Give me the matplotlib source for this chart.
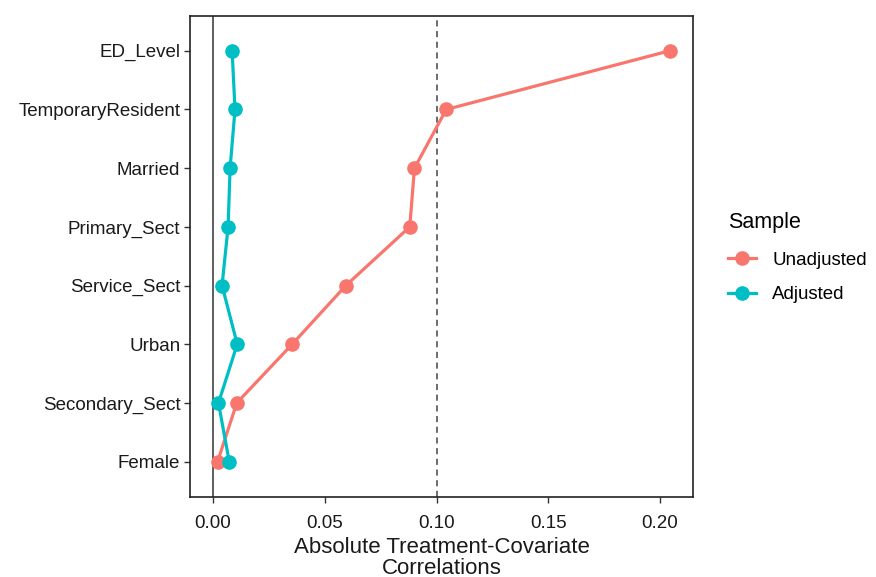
import matplotlib.pyplot as plt

plt.rcParams['font.family'] = ['Liberation Sans', 'DejaVu Sans']

# covariates, top to bottom as in the plot
covariates = ['ED_Level', 'TemporaryResident', 'Married', 'Primary_Sect',
              'Service_Sect', 'Urban', 'Secondary_Sect', 'Female']
unadjusted = [0.2043, 0.1043, 0.0901, 0.0880, 0.0594, 0.0354, 0.0106, 0.0020]
adjusted = [0.0085, 0.0098, 0.0076, 0.0067, 0.0040, 0.0108, 0.0024, 0.0072]
threshold = 0.10

col_un = '#F8766D'
col_adj = '#00BFC4'

fig = plt.figure(figsize=(8.76, 5.77), dpi=100)
ax = fig.add_axes([0.217, 0.139, 0.574, 0.834])

ypos = list(range(len(covariates), 0, -1))

ax.axvline(0, color='#333333', lw=1.1, zorder=1)
ax.axvline(threshold, color='#444444', lw=1.1, ls=(0, (4, 3)), zorder=1)

ax.plot(unadjusted, ypos, color=col_un, lw=2.3, marker='o', ms=9.5,
        label='Unadjusted', zorder=3)
ax.plot(adjusted, ypos, color=col_adj, lw=2.3, marker='o', ms=9.5,
        label='Adjusted', zorder=3)

ax.set_xlim(-0.0103, 0.2147)
ax.set_ylim(0.4, len(covariates) + 0.6)
ax.set_xticks([0.00, 0.05, 0.10, 0.15, 0.20])
ax.set_xticklabels(['0.00', '0.05', '0.10', '0.15', '0.20'])
ax.set_yticks(ypos)
ax.set_yticklabels(covariates)

ax.tick_params(axis='both', labelsize=13.5, colors='#333333',
               labelcolor='#1a1a1a', length=4, width=1)
ax.tick_params(axis='y', pad=3)
ax.tick_params(axis='x', pad=9)
for s in ax.spines.values():
    s.set_color('#222222')
    s.set_linewidth(1.2)

ax.set_xlabel('Absolute Treatment-Covariate\nCorrelations', fontsize=16,
              color='#1a1a1a', linespacing=0.95, labelpad=4)

leg = fig.legend(loc='center left', bbox_to_anchor=(0.831, 0.553),
                 frameon=False, title='Sample', fontsize=13.5,
                 title_fontsize=15.5, handlelength=1.5, handletextpad=0.85,
                 labelspacing=0.95, borderpad=0, borderaxespad=0)
leg._legend_box.align = 'left'
leg._legend_box.sep = 13

fig.savefig('out.png', dpi=100)
